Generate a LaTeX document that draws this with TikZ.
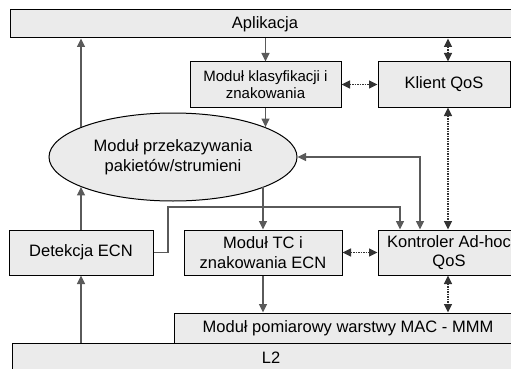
\documentclass[tikz,border=0pt]{standalone}
\usepackage{fontspec}
\setmainfont{Liberation Sans}
\usetikzlibrary{arrows.meta,shapes.geometric}

\definecolor{boxfill}{HTML}{EBEBEB}
\definecolor{linkgray}{HTML}{5A5A5A}
\definecolor{dashgray}{HTML}{333333}

\tikzset{
  block/.style={draw=black, line width=1pt, fill=boxfill, inner sep=0pt,
    align=center, font=\fontsize{16.5}{19.5}\selectfont},
  smallblock/.style={block, font=\fontsize{15}{17}\selectfont},
  link/.style={draw=linkgray, line width=1.1pt,
    -{Triangle[length=8.5pt,width=8pt]}},
  biline/.style={link, {Triangle[length=8.5pt,width=8pt]}-{Triangle[length=8.5pt,width=8pt]}},
  dlink/.style={draw=dashgray, line width=1.5pt, dash pattern=on 1.6pt off 0.9pt,
    {Triangle[length=8.5pt,width=8pt]}-{Triangle[length=8.5pt,width=8pt]}},
}

\begin{document}
\begin{tikzpicture}[x=1pt,y=-1pt]
\useasboundingbox (0,0) rectangle (511,369);
\clip (0,0) rectangle (511,369);

% layers and modules
\node[block, minimum width=510, minimum height=28] (app) at (265,24) {Aplikacja};
\node[smallblock, minimum width=151, minimum height=45] (klas) at (265.5,84.5)
  {Moduł klasyfikacji i\\znakowania};
\node[block, minimum width=132, minimum height=45] (klient) at (444,84.5) {Klient QoS};
\node[ellipse, draw=black, line width=1pt, fill=boxfill, inner sep=0pt,
  minimum width=248, minimum height=88, align=center,
  font=\fontsize{16.5}{19.5}\selectfont] (ell) at (173,157)
  {Moduł przekazywania\\pakietów/strumieni};
\node[block, minimum width=144, minimum height=45] (det) at (81,252.5) {Detekcja ECN};
\node[block, minimum width=158, minimum height=45] (tc) at (263,252.5)
  {Moduł TC i\\znakowania ECN};
\node[block, minimum width=142, minimum height=45] (kon) at (449,252.5)
  {Kontroler Ad-hoc\\QoS};
\node[block, minimum width=348, minimum height=30] (mmm) at (348,328)
  {Moduł pomiarowy warstwy MAC - MMM};
\node[block, minimum width=518, minimum height=30] (l2) at (271,358) {L2};

% guide coordinates for vertical runs
\coordinate (qx) at (448,0);
\coordinate (fx) at (420,0);
\coordinate (ex) at (400,0);
\coordinate (jn) at (168,207);

% solid data paths
\draw[link] (app.south -| klas.north) -- (klas.north);
\draw[link] (klas.south) -- (klas.south |- ell.18);
\draw[link] (tc.north |- ell.-18) -- (tc.north);
\draw[link] (tc.south) -- (tc.south |- mmm.north);
\draw[link] (l2.north -| det.south) -- (det.south);
\draw[link] (det.north) -- (det.north |- ell.198);
\draw[link] (det.north |- ell.162) -- (det.north |- app.south);
\draw[biline] (ell.east) -| (kon.north -| fx);
\draw[link] (det.east) -| (jn) -| (kon.north -| ex);

% control links
\draw[dlink] (klas.east) -- (klient.west);
\draw[dlink] (tc.east) -- (kon.west);
\draw[dlink] (app.south -| qx) -- (klient.north -| qx);
\draw[dlink] (klient.south -| qx) -- (kon.north -| qx);
\draw[dlink] (kon.south -| qx) -- (mmm.north -| qx);
\end{tikzpicture}
\end{document}
